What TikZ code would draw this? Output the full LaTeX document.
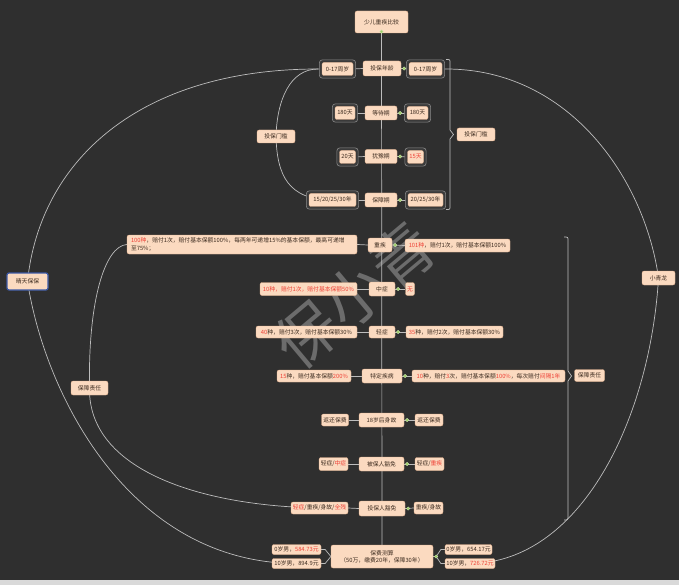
\documentclass[tikz,border=0pt]{standalone}
\usepackage{fontspec}
\setmainfont{Noto Sans CJK SC}
\usetikzlibrary{fit}
\pgfdeclarelayer{bgl}
\pgfdeclarelayer{mid}
\pgfsetlayers{bgl,mid,main}
\definecolor{bg}{HTML}{2F2F2F}
\definecolor{peach}{HTML}{FBDAC0}
\definecolor{pborder}{HTML}{E3B08C}
\definecolor{txt}{HTML}{3B2A1E}
\definecolor{hl}{HTML}{EE4035}
\definecolor{lnc}{HTML}{BDBDBD}
\definecolor{dotc}{HTML}{9CCC65}
\definecolor{grpfill}{HTML}{3A3A3A}
\definecolor{grpline}{HTML}{8C8C8C}
\definecolor{selc}{HTML}{3D5AA6}
\newcommand\hlr[1]{\textcolor{hl}{#1}}
\tikzset{
  box/.style={fill=peach, draw=pborder, line width=0.3pt, rounded corners=2pt, text=txt,
    font=\fontsize{5.8}{7.2}\selectfont, inner sep=0pt, align=center},
  grp/.style={fill=grpfill, draw=grpline, line width=0.6pt, rounded corners=3pt, inner sep=2.5pt},
  conn/.style={draw=lnc, line width=0.7pt},
  gdot/.style={fill=dotc, draw=dotc!50!white, line width=0.3pt},
}
\begin{document}
\begin{tikzpicture}[x=1pt,y=-1pt]
\useasboundingbox (0,0) rectangle (679,585);
% center column
\node[box, minimum width=53pt, minimum height=22pt] (top) at (381.5,22) {少儿重疾比较};
\node[box, minimum width=38pt, minimum height=15pt] (age) at (382,68.5) {投保年龄};
\node[box, minimum width=32pt, minimum height=14pt] (wait) at (381,113) {等待期};
\node[box, minimum width=32pt, minimum height=14pt] (hes) at (381,156.5) {犹豫期};
\node[box, minimum width=32pt, minimum height=14pt] (per) at (381,200) {保障期};
\node[box, minimum width=24pt, minimum height=14pt] (zj) at (380,245) {重疾};
\node[box, minimum width=26pt, minimum height=14pt] (zz) at (382,289) {中症};
\node[box, minimum width=26pt, minimum height=12pt] (qz) at (382,332) {轻症};
\node[box, minimum width=40pt, minimum height=14pt] (td) at (382,376) {特定疾病};
\node[box, minimum width=45pt, minimum height=14pt] (sg) at (381.5,420) {18岁后身故};
\node[box, minimum width=45pt, minimum height=14pt] (bh) at (381.5,464) {被保人豁免};
\node[box, minimum width=46pt, minimum height=15pt] (th) at (382,508.5) {投保人豁免};
\node[box, minimum width=102pt, minimum height=23pt] (pf) at (382,556.5) {保费测算\\（50万，缴费20年，保障30年）};
% side items
\node[box, minimum width=31pt, minimum height=13pt] (a17L) at (337.5,69) {0-17周岁};
\node[box, minimum width=33pt, minimum height=13pt] (a17R) at (425.5,69) {0-17周岁};
\node[box, minimum width=20pt, minimum height=13pt] (w180L) at (345,113) {180天};
\node[box, minimum width=21pt, minimum height=13pt] (w180R) at (417.5,113) {180天};
\node[box, minimum width=16pt, minimum height=13pt] (h20L) at (347.5,157) {20天};
\node[box, minimum width=16pt, minimum height=13pt] (h15R) at (415.5,157) {\hlr{15天}};
\node[box, minimum width=47pt, minimum height=13pt] (pL) at (332.5,200) {15/20/25/30年};
\node[box, minimum width=35pt, minimum height=13pt] (pR) at (425.5,200) {20/25/30年};
\node[box, minimum width=230pt, minimum height=19pt, text width=222pt, align=left] (zjL) at (242,244.5)
  {\hlr{100种}，赔付1次，赔付基本保额100\%，每两年可递增15\%的基本保额，最高可递增\\至75\%；};
\node[box, minimum width=105pt, minimum height=13pt] (zjR) at (457.5,245.5) {\hlr{101种}，赔付1次，赔付基本保额100\%};
\node[box, minimum width=97pt, minimum height=13pt] (zzL) at (308.5,289) {\hlr{10种，赔付1次，赔付基本保额50\%}};
\node[box, minimum width=9pt, minimum height=13pt] (zzR) at (410,289) {\hlr{无}};
\node[box, minimum width=101pt, minimum height=12pt] (qzL) at (306.5,332) {\hlr{40}种，赔付3次，赔付基本保额30\%};
\node[box, minimum width=97pt, minimum height=12pt] (qzR) at (454.5,332) {\hlr{35}种，赔付2次，赔付基本保额30\%};
\node[box, minimum width=74pt, minimum height=12pt] (tdL) at (314,376) {\hlr{15}种，赔付基本保额\hlr{200\%}};
\node[box, minimum width=153pt, minimum height=12pt] (tdR) at (488.5,376) {\hlr{10}种，赔付\hlr{3}次，赔付基本保额\hlr{100\%}，每次赔付\hlr{间隔1年}};
\node[box, minimum width=27pt, minimum height=12pt] (sgL) at (335,420) {返还保费};
\node[box, minimum width=28pt, minimum height=12pt] (sgR) at (429,420) {返还保费};
\node[box, minimum width=29pt, minimum height=13pt] (bhL) at (333.5,464) {轻症/\hlr{中症}};
\node[box, minimum width=29pt, minimum height=13pt] (bhR) at (429.5,464) {轻症/\hlr{重疾}};
\node[box, minimum width=57pt, minimum height=12pt] (thL) at (319.5,508) {\hlr{轻症}/重疾/身故/\hlr{全残}};
\node[box, minimum width=29pt, minimum height=12pt] (thR) at (428.5,508) {重疾/身故};
\node[box, minimum width=49pt, minimum height=10pt] (pf0L) at (296.5,549.5) {0岁男，\hlr{584.73元}};
\node[box, minimum width=49pt, minimum height=10pt] (pf10L) at (296.5,563.5) {10岁男，894.9元};
\node[box, minimum width=47pt, minimum height=10pt] (pf0R) at (468.5,549.5) {0岁男，654.17元};
\node[box, minimum width=50pt, minimum height=10pt] (pf10R) at (470,563.5) {10岁男，\hlr{726.72元}};
% labels
\node[box, minimum width=38pt, minimum height=13pt] (tbL) at (276,136.5) {投保门槛};
\node[box, minimum width=38pt, minimum height=13pt] (tbR) at (476,134.5) {投保门槛};
\node[box, minimum width=37pt, minimum height=14pt] (bzL) at (89.5,388) {保障责任};
\node[box, minimum width=30pt, minimum height=12pt] (bzR) at (589.5,375.5) {保障责任};
\node[box, draw=selc, line width=1.2pt, minimum width=41pt, minimum height=17pt] (qt) at (27.5,281.5) {晴天保保};
\node[box, minimum width=33pt, minimum height=14pt] (xql) at (658.5,278) {小青龙};
% group outlines
\begin{pgfonlayer}{mid}
\foreach \n in {a17L,a17R,w180L,w180R,h20L,h15R,pL,pR}
  \node[grp, fit=(\n)] {};
\end{pgfonlayer}
% background, watermark and connectors
\begin{pgfonlayer}{bgl}
\fill[bg] (0,0) rectangle (679,585);
\fill[gray!30] (0,580) rectangle (679,585);
\node[rotate=40, text=gray!75, opacity=0.55, font=\fontsize{62}{62}\selectfont] (wm) at (355,295) {保小青};
\draw[conn] (top.south) -- (pf.north);
\foreach \l/\c/\r in {a17L/age/a17R, w180L/wait/w180R, h20L/hes/h15R, pL/per/pR,
  zjL/zj/zjR, zzL/zz/zzR, qzL/qz/qzR, tdL/td/tdR, sgL/sg/sgR, bhL/bh/bhR, thL/th/thR}
  \draw[conn] (\l.east) -- (\c.west) (\c.east) -- (\r.west);
\draw[conn] (pf0L.east) -- ++(4,0) -- (pf.west);
\draw[conn] (pf10L.east) -- ++(4,0) -- (pf.west);
\draw[conn] (pf.east) -- ++(3,0) -- ([xshift=-4pt]pf0R.west) -- (pf0R.west);
\draw[conn] (pf.east) -- ++(3,0) -- ([xshift=-4pt]pf10R.west) -- (pf10R.west);
% left brackets
\draw[conn] (a17L.center) -- (318,69) .. controls (290,69) and (277,100) .. (tbL.center)
  .. controls (277,175) and (288,200) .. (pL.center);
\draw[conn] (318,69) .. controls (140,69) and (40,160) .. (qt.center);
\draw[conn] (qt.center) .. controls (45,395) and (130,563) .. (pf10L.center);
\draw[conn] (zjL.west) .. controls (105,246) and (88,300) .. (bzL.center);
\draw[conn] (bzL.center) .. controls (88,470) and (200,506) .. (thL.center);
% right brackets
\draw[conn] (446,59.5) .. controls (450,59.5) .. (450,63) -- (450,130) -- (453.5,134.5) -- (450,139) -- (450,206) .. controls (450,209.5) .. (446,209.5);
\draw[conn] (564,237) .. controls (568,237) .. (568,241) -- (568,371) -- (571.5,376) -- (568,381) -- (568,516) .. controls (568,520) .. (564,520);
\draw[conn] (a17R.center) -- (446,69) .. controls (570,69) and (645,180) .. (xql.center);
\draw[conn] (xql.center) .. controls (650,420) and (580,563) .. (pf10R.center);
\end{pgfonlayer}
% green dots
\foreach \n in {age,wait,hes,per,zj,zz,qz,td,sg,bh,th}
  \filldraw[gdot] ([xshift=3pt]\n.east) circle (1.7pt);
\filldraw[gdot] ([yshift=1.5pt]top.south) circle (1.7pt);
\filldraw[gdot] ([xshift=3pt]pf.east) circle (1.7pt);
\end{tikzpicture}
\end{document}
